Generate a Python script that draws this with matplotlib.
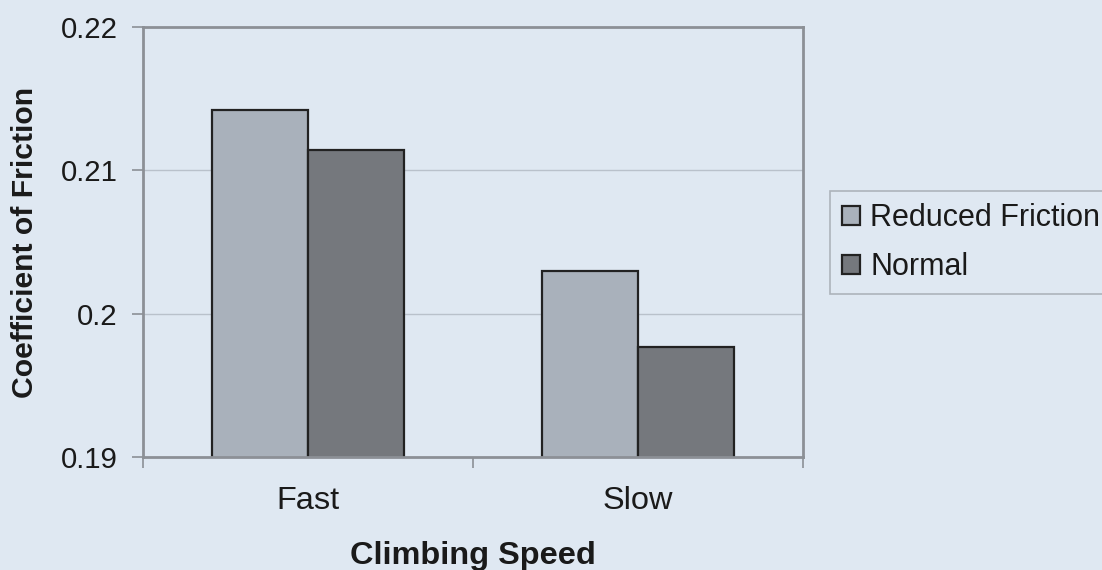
import matplotlib
matplotlib.use("Agg")
import matplotlib.pyplot as plt
import numpy as np

categories = ["Fast", "Slow"]
series_names = ["Reduced Friction", "Normal"]
reduced = [0.2142, 0.2030]
normal = [0.2114, 0.1977]
yticks = [0.19, 0.20, 0.21, 0.22]
ytick_labels = ["0.19", "0.2", "0.21", "0.22"]

bg = "#dfe8f2"
c_reduced = "#a9b1bb"
c_normal = "#75787d"
spine_c = "#8c9096"

plt.rcParams['font.family'] = ['Liberation Sans', 'DejaVu Sans']

fig = plt.figure(figsize=(11.02, 5.70), dpi=100, facecolor=bg)
ax = fig.add_axes([143/1102, 1-457/570, 660/1102, 430/570])
ax.set_facecolor(bg)

x = np.arange(len(categories))
w = 0.29
ax.bar(x - w/2, reduced, w, color=c_reduced, edgecolor="#222222", linewidth=1.6,
       label=series_names[0], zorder=3)
ax.bar(x + w/2, normal, w, color=c_normal, edgecolor="#222222", linewidth=1.6,
       label=series_names[1], zorder=3)

ax.set_xlim(-0.5, 1.5)
ax.set_ylim(0.19, 0.22)
ax.set_yticks(yticks)
ax.set_yticklabels(ytick_labels, fontsize=21.2, color="#1a1a1a")
ax.set_xticks(x)
ax.set_xticklabels(categories, fontsize=23.4, color="#1a1a1a")
ax.set_xticks([-0.5, 0.5, 1.5], minor=True)
ax.tick_params(axis='x', which='major', length=0, pad=21)
ax.tick_params(axis='x', which='minor', length=8, width=1.2, color=spine_c, direction='out')
ax.tick_params(axis='y', which='major', length=8, width=1.2, color=spine_c, pad=10)

for yv in [0.20, 0.21]:
    ax.axhline(yv, color="#b9c1cb", linewidth=1.0, zorder=1)

for s in ["left", "bottom", "top", "right"]:
    ax.spines[s].set_color(spine_c)
    ax.spines[s].set_linewidth(2.0)
    ax.spines[s].set_zorder(4)

ax.set_xlabel("Climbing Speed", fontsize=23.4, fontweight="bold", color="#1a1a1a")
ax.xaxis.set_label_coords(0.5, -(541-457)/430)
ax.set_ylabel("Coefficient of Friction", fontsize=21.7, fontweight="bold", color="#1a1a1a")
ax.yaxis.set_label_coords((39-143)/660, (457-242)/430)

leg = fig.legend(loc="upper left", bbox_to_anchor=(830/1102, 1-191/570),
                 borderaxespad=0, fontsize=22, frameon=True, fancybox=False,
                 handlelength=0.59, handleheight=0.59, handletextpad=0.33,
                 labelspacing=0.62, borderpad=0.4)
leg.get_frame().set_facecolor(bg)
leg.get_frame().set_edgecolor("#a0a6ad")
leg.get_frame().set_linewidth(1.2)
for t in leg.get_texts():
    t.set_color("#1a1a1a")

fig.savefig("out.png", dpi=100, facecolor=bg)
